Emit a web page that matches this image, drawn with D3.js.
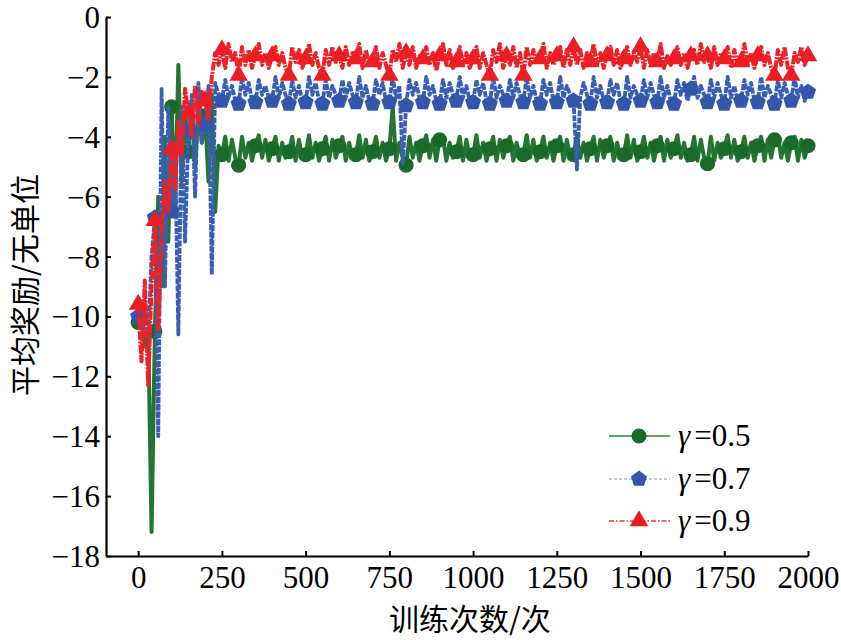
<!DOCTYPE html>
<html>
<head>
<meta charset="utf-8">
<script src="https://cdn.jsdelivr.net/npm/d3@7/dist/d3.min.js"></script>
<style>
  html, body { margin: 0; padding: 0; background: #fff; }
  svg { display: block; }
</style>
</head>
<body>
<svg id="chart" width="841" height="640"></svg>
<script>
// ---------------- DATA ----------------
const episodes = d3.range(0, 2001, 10); // training episode index (every 10)
const xTickValues = [0, 250, 500, 750, 1000, 1250, 1500, 1750, 2000];
const yTickValues = [-18, -16, -14, -12, -10, -8, -6, -4, -2, 0];
const seriesLabels = ["0.5", "0.7", "0.9"];

const rewardG05 = [
  -10.2, -9.8, -11.0, -10.4, -17.2, -10.5, -6.0, -9.0, -4.0, -7.5,
  -3.0, -6.5, -1.6, -5.5, -3.2, -4.5, -2.8, -5.0, -3.0, -4.2,
  -3.3, -5.5, -2.6, -6.5, -4.3, -4.6, -4.0, -4.8, -4.1, -4.7,
  -4.95, -4.0, -4.7, -4.2, -4.8, -4.3, -3.95, -4.7, -4.1, -4.8,
  -4.4, -4.0, -4.8, -4.2, -4.7, -4.5, -4.0, -4.8, -4.1, -4.7,
  -4.6, -3.95, -4.7, -4.2, -4.8, -4.4, -4.0, -4.8, -4.1, -4.7,
  -4.3, -4.0, -4.8, -4.2, -4.7, -4.6, -3.95, -4.7, -4.1, -4.8,
  -4.5, -4.0, -4.7, -4.2, -4.8, -4.4, -3.0, -4.8, -4.2, -4.7,
  -4.95, -4.0, -4.7, -4.2, -4.8, -4.3, -3.95, -4.7, -4.1, -4.8,
  -4.1, -4.0, -4.8, -4.2, -4.7, -4.5, -4.0, -4.8, -4.1, -4.7,
  -4.6, -3.95, -4.7, -4.2, -4.8, -4.4, -4.0, -4.8, -4.1, -4.7,
  -4.3, -4.0, -4.8, -4.2, -4.7, -4.6, -3.95, -4.7, -4.1, -4.8,
  -4.5, -4.0, -4.7, -4.2, -4.8, -4.3, -4.0, -4.8, -4.1, -4.7,
  -4.6, -3.95, -4.7, -4.2, -4.8, -4.4, -4.0, -4.8, -4.1, -4.7,
  -4.3, -4.0, -4.8, -4.2, -4.7, -4.6, -3.95, -4.7, -4.1, -4.8,
  -4.5, -4.0, -4.7, -4.2, -4.8, -4.3, -4.0, -4.8, -4.1, -4.7,
  -4.4, -3.95, -4.7, -4.2, -4.8, -4.6, -4.0, -4.8, -4.1, -4.7,
  -4.9, -4.0, -4.8, -4.2, -4.7, -4.4, -3.95, -4.7, -4.1, -4.8,
  -4.5, -4.0, -4.7, -4.2, -4.8, -4.3, -4.0, -4.8, -4.1, -4.7,
  -4.1, -3.95, -4.7, -4.2, -4.8, -4.2, -4.0, -4.8, -4.1, -4.7,
  -4.3
];

const rewardG07 = [
  -10.0, -10.4, -9.5, -10.8, -8.0, -6.7, -14.0, -2.4, -9.0, -3.0,
  -6.5, -4.2, -10.6, -3.0, -7.5, -3.8, -2.6, -6.0, -2.2, -4.2,
  -3.6, -2.3, -8.6, -2.2, -2.6, -2.8, -2.1, -2.7, -2.3, -2.8,
  -2.9, -2.0, -2.6, -2.2, -2.8, -2.85, -2.1, -2.6, -2.3, -2.7,
  -2.8, -2.0, -2.7, -2.2, -2.6, -2.9, -2.1, -2.7, -2.3, -2.8,
  -2.85, -2.0, -2.6, -2.2, -2.8, -2.9, -2.1, -2.7, -2.3, -2.6,
  -2.8, -2.1, -2.7, -2.2, -2.6, -2.85, -2.0, -2.7, -2.3, -2.8,
  -2.9, -2.1, -2.6, -2.2, -2.8, -2.85, -2.0, -2.7, -2.3, -4.9,
  -2.95, -2.1, -2.6, -2.2, -2.7, -2.85, -2.0, -2.6, -2.3, -2.8,
  -2.9, -2.1, -2.7, -2.2, -2.6, -2.8, -2.0, -2.7, -2.3, -2.8,
  -2.85, -2.1, -2.6, -2.2, -2.8, -2.9, -2.0, -2.7, -2.3, -2.6,
  -2.8, -2.1, -2.7, -2.2, -2.6, -2.85, -2.0, -2.7, -2.3, -2.8,
  -2.9, -2.1, -2.6, -2.2, -2.8, -2.85, -2.0, -2.7, -2.3, -2.6,
  -2.8, -5.1, -2.7, -2.2, -2.6, -2.9, -2.0, -2.7, -2.3, -2.8,
  -2.85, -2.1, -2.6, -2.2, -2.8, -2.9, -2.0, -2.7, -2.3, -2.6,
  -2.8, -2.1, -2.7, -2.2, -2.6, -2.85, -2.0, -2.7, -2.3, -2.8,
  -2.9, -2.1, -2.6, -2.2, -2.8, -2.4, -2.0, -2.7, -2.3, -2.6,
  -2.85, -2.1, -2.7, -2.2, -2.6, -2.9, -2.0, -2.7, -2.3, -2.8,
  -2.8, -2.1, -2.6, -2.2, -2.8, -2.85, -2.0, -2.7, -2.3, -2.6,
  -2.9, -2.1, -2.7, -2.2, -2.6, -2.8, -2.0, -2.7, -2.3, -2.8,
  -2.5
];

const rewardG09 = [
  -9.6, -11.5, -8.8, -12.3, -9.0, -6.8, -10.5, -7.2, -5.5, -6.5,
  -4.4, -5.8, -3.5, -4.6, -2.4, -3.2, -4.0, -2.3, -3.6, -2.5,
  -2.8, -3.4, -2.0, -1.2, -1.6, -1.1, -1.7, -0.9, -1.5, -1.2,
  -1.95, -1.0, -1.6, -1.1, -1.7, -1.3, -0.9, -1.6, -1.2, -1.7,
  -1.3, -1.0, -1.6, -1.2, -1.7, -1.95, -1.0, -1.5, -1.1, -1.7,
  -1.4, -0.9, -1.6, -1.2, -1.7, -1.95, -1.1, -1.6, -1.0, -1.5,
  -1.3, -1.7, -1.0, -1.6, -1.2, -1.4, -0.9, -1.7, -1.1, -1.6,
  -1.5, -1.0, -1.7, -1.2, -1.6, -1.95, -1.1, -1.5, -0.9, -1.7,
  -1.2, -1.6, -1.0, -1.7, -1.3, -1.4, -1.0, -1.6, -1.2, -1.8,
  -1.3, -0.9, -1.6, -1.1, -1.7, -1.5, -1.0, -1.6, -1.2, -1.7,
  -1.4, -1.0, -1.7, -1.2, -1.6, -1.95, -1.1, -1.5, -0.9, -1.7,
  -1.3, -1.6, -1.0, -1.7, -1.2, -1.95, -1.0, -1.6, -1.1, -1.5,
  -1.4, -0.9, -1.7, -1.2, -1.6, -1.3, -1.0, -1.7, -1.1, -1.6,
  -1.0, -1.6, -1.1, -1.7, -1.2, -1.5, -0.9, -1.6, -1.2, -1.7,
  -1.3, -1.0, -1.6, -1.1, -1.7, -1.4, -1.0, -1.6, -1.2, -1.5,
  -1.0, -1.7, -1.1, -1.6, -1.2, -1.5, -0.9, -1.7, -1.3, -1.6,
  -1.4, -1.0, -1.6, -1.2, -1.7, -1.3, -1.1, -1.6, -0.9, -1.5,
  -1.3, -1.7, -1.0, -1.6, -1.2, -1.4, -1.0, -1.7, -1.1, -1.6,
  -1.5, -0.9, -1.6, -1.2, -1.7, -1.3, -1.0, -1.6, -1.2, -1.7,
  -1.95, -1.1, -1.6, -1.0, -1.7, -1.95, -1.2, -1.5, -1.0, -1.6,
  -1.3
];

// ---------------- CHART ----------------
const svg = d3.select("#chart");
const x = d3.scaleLinear().domain([-96, 2000]).range([106, 808]);
const y = d3.scaleLinear().domain([-18, 0]).range([556, 17]);

const numFont = '"Liberation Serif"';
const cjkFont = '"Noto Sans CJK SC"';

const pentagon = {
  draw(ctx, size) {
    const r = Math.sqrt(size);
    for (let k = 0; k < 5; k++) {
      const a = -Math.PI / 2 + k * 2 * Math.PI / 5;
      const px = r * Math.cos(a), py = r * Math.sin(a);
      if (k === 0) ctx.moveTo(px, py); else ctx.lineTo(px, py);
    }
    ctx.closePath();
  }
};

const series = [
  { label: seriesLabels[0], values: rewardG05, line: "#237532", lineW: 4, dash: null,
    marker: "#1b6a2b", symbol: d3.symbolCircle, size: 180, legendLine: "#5aa85e", legendW: 2.2, legendDash: null },
  { label: seriesLabels[1], values: rewardG07, line: "#3a5fb2", lineW: 3.8, dash: "6,1.2",
    marker: "#3456aa", symbol: pentagon, size: 72, legendLine: "#7d97d2", legendW: 1.2, legendDash: "3,2" },
  { label: seriesLabels[2], values: rewardG09, line: "#ec2228", lineW: 4, dash: "9,1.2,2,1.2",
    marker: "#ea1e24", symbol: d3.symbolTriangle, size: 150, legendLine: "#e23a3e", legendW: 1.6, legendDash: "5,2,1.5,2" }
];

const line = d3.line().x(d => x(d[0])).y(d => y(d[1]));

series.forEach(s => {
  const pts = episodes.map((e, i) => [e, s.values[i]]);
  svg.append("path")
    .datum(pts)
    .attr("d", line)
    .attr("fill", "none")
    .attr("stroke", s.line)
    .attr("stroke-width", s.lineW)
    .attr("stroke-dasharray", s.dash)
    .attr("stroke-linejoin", "round")
    .attr("stroke-linecap", "butt");
  svg.append("g").selectAll("path")
    .data(pts.filter((d, i) => i % 5 === 0))
    .join("path")
    .attr("d", d3.symbol().type(s.symbol).size(s.size))
    .attr("transform", d => `translate(${x(d[0])},${y(d[1])})`)
    .attr("fill", s.marker);
});

// Axes
const xAxis = d3.axisBottom(x).tickValues(xTickValues).tickSizeInner(-5).tickSizeOuter(0).tickPadding(10).tickFormat(d3.format("d"));
const gx = svg.append("g").attr("transform", `translate(0,${y(-18)})`).call(xAxis);
const yAxis = d3.axisLeft(y).tickValues(yTickValues).tickSizeInner(-5).tickSizeOuter(0).tickPadding(6).tickFormat(d3.format("d"));
const gy = svg.append("g").attr("transform", `translate(${x(-96)},0)`).call(yAxis);

[gx, gy].forEach(g => {
  g.attr("font-family", null).attr("font-size", null);
  g.select(".domain").attr("stroke", "#000").attr("stroke-width", 2.2);
  g.selectAll(".tick line").attr("stroke", "#000").attr("stroke-width", 2);
  g.selectAll(".tick text").attr("fill", "#000")
    .style("font-family", numFont).style("font-size", "31px");
});
gx.selectAll(".tick text").attr("dy", "0.72em");
gy.selectAll(".tick text").attr("dy", "0.34em");

// Axis titles
svg.append("text")
  .attr("x", 470).attr("y", 630)
  .attr("text-anchor", "middle")
  .style("font-family", cjkFont).style("font-size", "30px")
  .text("训练次数/次");

svg.append("text")
  .attr("transform", "translate(36,285) rotate(-90)")
  .attr("text-anchor", "middle")
  .style("font-family", cjkFont).style("font-size", "30px")
  .text("平均奖励/无单位");

// Legend
const legendY = [436, 479, 521];
series.forEach((s, i) => {
  const g = svg.append("g").attr("transform", `translate(0,${legendY[i]})`);
  g.append("line").attr("x1", 609).attr("x2", 670).attr("y1", 0).attr("y2", 0)
    .attr("stroke", s.legendLine).attr("stroke-width", s.legendW).attr("stroke-dasharray", s.legendDash);
  g.append("path").attr("d", d3.symbol().type(s.symbol).size(s.size)).attr("transform", "translate(639,0)").attr("fill", s.marker);
  const t = g.append("text").attr("x", 678).attr("y", 10)
    .style("font-family", numFont).style("font-size", "31px").attr("fill", "#000");
  t.append("tspan").style("font-style", "italic").text("γ");
  t.append("tspan").attr("dx", 4).text("=" + s.label);
});
</script>
</body>
</html>
